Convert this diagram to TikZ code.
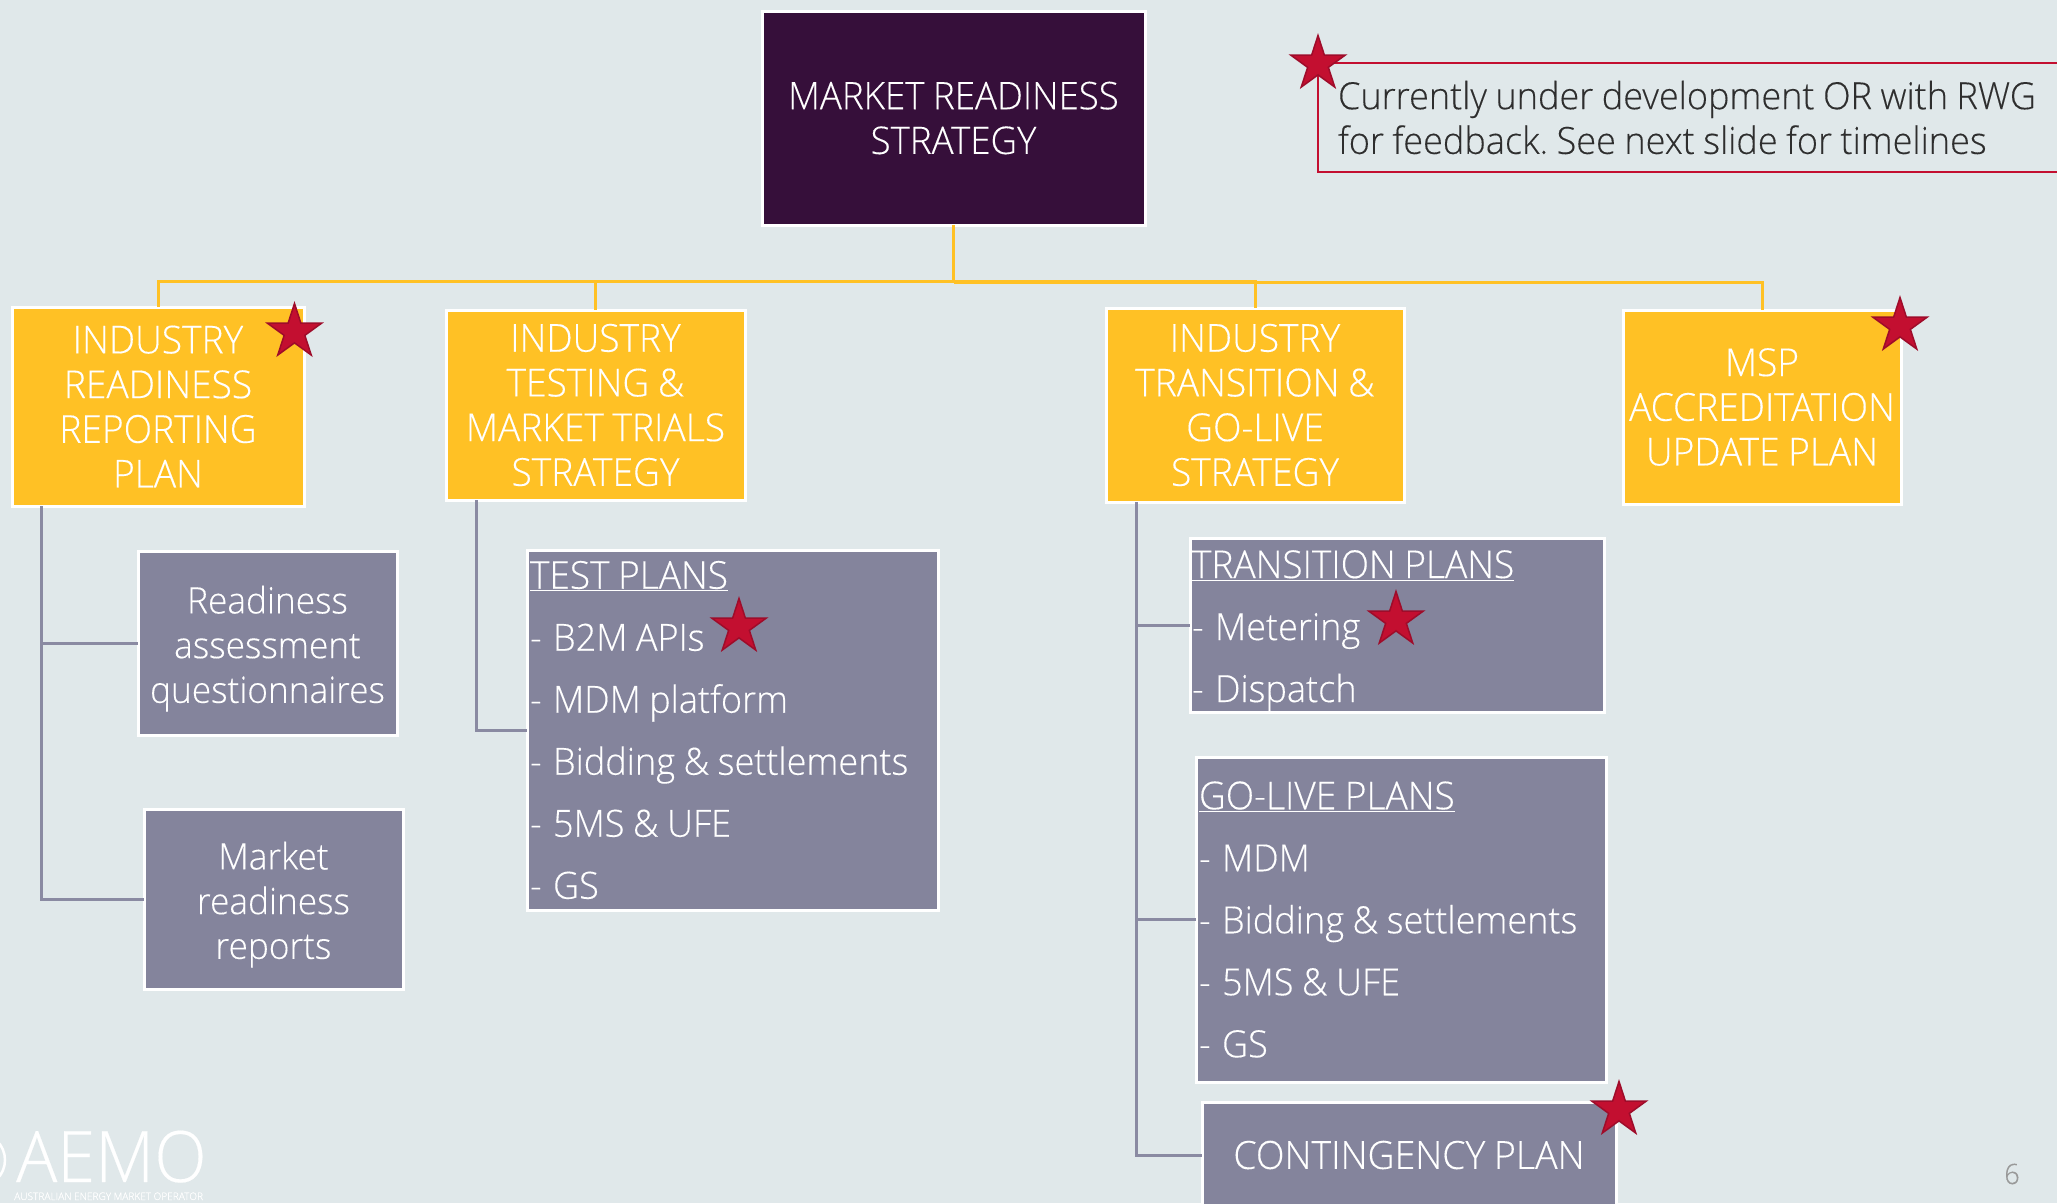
\documentclass[tikz,border=0pt]{standalone}
\usepackage{fontspec}
\setmainfont{Open Sans}[UprightFont=* Light,FakeStretch=0.965,WordSpace=0.9,FakeBold=0.25]
\usetikzlibrary{shapes.geometric}
\definecolor{bgc}{HTML}{E0E8EA}
\definecolor{yel}{HTML}{FFC125}
\definecolor{gry}{HTML}{84849C}
\definecolor{lnc}{HTML}{8A8AA2}
\definecolor{dark}{HTML}{360F3A}
\definecolor{redd}{HTML}{C30F30}
\definecolor{redl}{HTML}{9E0C2A}
\newcommand{\fs}[2]{\fontsize{#1}{#2}\selectfont}
\newcommand{\lift}{\rule{0pt}{39pt}}
\newcommand{\hd}[1]{{\fs{38.4}{62}\underline{#1}}}
\newcommand{\ds}{-\hspace{3pt} }
\tikzset{
 boxb/.style={rectangle,draw=white,line width=3pt,inner sep=0pt,outer sep=0pt,text=white,align=center},
 yelbox/.style={boxb,fill=yel,font=\fs{38.5}{44.7}},
 grybox/.style={boxb,fill=gry,font=\fs{36.5}{44.7}},
 lstbox/.style={boxb,fill=gry,font=\fs{37.4}{62},align=flush left},
 ybus/.style={draw=yel,line width=3pt},
 gbus/.style={draw=lnc,line width=3pt},
 starm/.style={star,star points=5,star point ratio=2.618,minimum size=57pt,inner sep=0pt,outer sep=0pt,fill=redd,draw=redl,line width=1.5pt}
}
\begin{document}
\frenchspacing
\begin{tikzpicture}[x=1pt,y=-1pt]
\path[use as bounding box,clip] (0,0) rectangle (2057,1203);
\fill[bgc] (0,0) rectangle (2057,1203);
% boxes
\node[boxb,fill=dark,font=\fs{38}{44.7},minimum width=383pt,minimum height=214pt] (main) at (953.5,118) {MARKET READINESS\\STRATEGY};
\node[yelbox,minimum width=292pt,minimum height=199pt] (b1) at (158,406.5) {INDUSTRY\\READINESS\\REPORTING\\PLAN};
\node[yelbox,minimum width=299pt,minimum height=190pt] (b2) at (595.5,405) {INDUSTRY\\TESTING \&\\MARKET TRIALS\\STRATEGY};
\node[yelbox,minimum width=298pt,minimum height=194pt] (b3) at (1255,405) {INDUSTRY\\TRANSITION \&\\GO-LIVE\\STRATEGY};
\node[yelbox,minimum width=278pt,minimum height=194pt] (b4) at (1762,407) {MSP\\ACCREDITATION\\UPDATE PLAN};
\node[grybox,minimum width=259pt,minimum height=184pt] (r1) at (267.5,643) {\lift Readiness\\assessment\\questionnaires};
\node[grybox,minimum width=259pt,minimum height=180pt] (r2) at (273.5,899) {\lift Market\\readiness\\reports};
\node[lstbox,minimum width=411pt,minimum height=360pt,text width=405pt] (tp) at (732.5,730) {\hd{TEST PLANS}\\\ds B2M APIs\\\ds MDM platform\\\ds Bidding \& settlements\\\ds 5MS \& UFE\\\ds GS};
\node[lstbox,minimum width=414pt,minimum height=174pt,text width=410pt] (trp) at (1397,625) {\lift\hd{TRANSITION PLANS}\\\ds Metering\\\ds Dispatch};
\node[lstbox,minimum width=410pt,minimum height=325pt,text width=404pt] (glp) at (1401,919.5) {\hd{GO-LIVE PLANS}\\\ds MDM\\\ds Bidding \& settlements\\\ds 5MS \& UFE\\\ds GS};
\node[boxb,fill=gry,font=\fs{38.8}{44.7},minimum width=414pt,minimum height=106pt] (cp) at (1409,1155) {CONTINGENCY PLAN};
% legend
\node[rectangle,draw=redd,line width=2.5pt,inner sep=0pt,outer sep=0pt,minimum width=762pt,minimum height=109pt,text width=722pt,align=flush left,text=black!82,font=\fs{37.4}{44.7}] (lg) at (1699,117.5) {Currently under development OR with RWG\\for feedback. See next slide for timelines};
% connectors
\draw[ybus] (main.south) -- ++(0,56) coordinate (bus) -| (b1.north);
\draw[ybus] (bus) -| (b2.north);
\draw[ybus] (bus) -| (b3.north);
\draw[ybus] (bus) ++(0,1) -| (b4.north);
\coordinate (s1) at ([xshift=29pt]b1.south west);
\coordinate (s2) at ([xshift=30pt]b2.south west);
\coordinate (s3) at ([xshift=30pt]b3.south west);
\draw[gbus] (s1) |- (r2.west);
\draw[gbus] (s1 |- r1.west) -- (r1.west);
\draw[gbus] (s2) |- (tp.west);
\draw[gbus] (s3) |- (cp.west);
\draw[gbus] (s3 |- trp.west) -- (trp.west);
\draw[gbus] (s3 |- glp.west) -- (glp.west);
% stars
\node[starm] (st0) at (1318,64) {};
\node[starm] (st1) at (294.5,332) {};
\node[starm] (st2) at (739,627) {};
\node[starm] (st3) at (1396,620) {};
\node[starm] (st4) at (1900,326) {};
\node[starm] (st5) at (1619,1110) {};
% footer
\draw[white,line width=2.5pt] (-22,1160) circle[radius=27pt];
\node[text=white,font=\fs{71}{71},inner sep=0pt,anchor=base west] (logo) at (16,1182) {AEMO};
\node[text=white,font=\fs{10.5}{12},inner sep=0pt,anchor=base west] (logot) at (14,1200) {AUSTRALIAN ENERGY MARKET OPERATOR};
\node[text=black!40,font=\fs{28}{30},inner sep=0pt] (pg) at (2012,1174) {6};
\end{tikzpicture}
\end{document}
